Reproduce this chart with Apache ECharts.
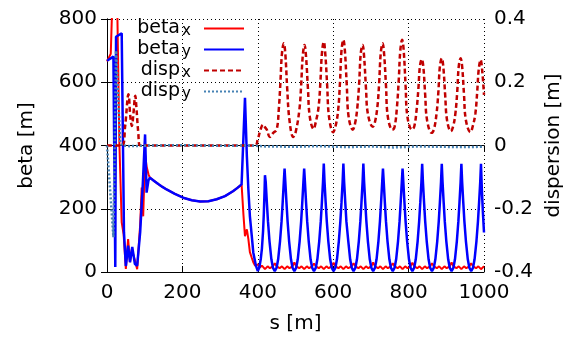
<!DOCTYPE html>
<html>
<head>
<meta charset="utf-8">
<script src="https://cdn.jsdelivr.net/npm/echarts@6/dist/echarts.min.js"></script>
<style>
  html, body { margin: 0; padding: 0; background: #fff; }
  #chart { width: 577px; height: 339px; }
</style>
</head>
<body>
<div id="chart"></div>
<script>
// optics along the line, s in metres
const betaX = [
  [0, 666], [10, 690], [14, 850], [27, 850], [33, 400], [39, 157], [44, 120], [50, 10],
  [56, 104], [61, 31], [66, 72], [73, 41], [80, 9], [88, 150], [92, 267], [96, 176],
  [101, 372], [105, 334], [110, 309], [114, 298], [125, 288], [136, 278], [147, 269], [158, 261],
  [180, 247], [202, 235], [225, 227], [247, 223], [269, 224], [291, 230], [313, 240], [335, 256],
  [346, 266], [357, 277], [362, 180], [366, 113], [371, 135],
  [375, 104], [379, 63], [384, 45], [388, 31], [393, 20], [397, 15], [401, 24], [405, 14],
  [411, 20], [419, 9], [426, 18], [432, 12], [440, 18], [445, 28], [450, 18], [458, 12], [464, 18],
  [471, 9], [478, 18], [484, 12], [492, 18], [497, 30], [502, 18], [510, 12], [516, 18],
  [523, 9], [530, 18], [536, 12], [544, 18], [549, 27], [554, 18], [562, 12], [568, 18],
  [575, 9], [582, 18], [588, 12], [596, 18], [601, 29], [606, 18], [614, 12], [620, 18],
  [627, 9], [634, 18], [640, 12], [649, 18], [654, 28], [659, 18], [667, 12], [673, 18],
  [680, 9], [687, 18], [693, 12], [701, 18], [706, 30], [711, 18], [719, 12], [725, 18],
  [732, 9], [739, 18], [745, 12], [753, 18], [758, 28], [763, 18], [771, 12], [777, 18],
  [784, 9], [791, 18], [797, 12], [805, 18], [810, 29], [815, 18], [823, 12], [829, 18],
  [836, 9], [843, 18], [849, 12], [857, 18], [862, 28], [867, 18], [875, 12], [881, 18],
  [888, 9], [895, 18], [901, 12], [909, 18], [914, 30], [919, 18], [927, 12], [933, 18],
  [940, 9], [947, 18], [953, 12], [961, 18], [966, 28], [971, 18], [979, 12], [985, 18],
  [992, 9], [1000, 18]
]

const betaY = [
  [0, 668], [17, 681], [21, 683], [22, 16], [24, 744], [39, 755], [42, 441], [45, 126], [50, 19],
  [56, 83], [61, 31], [67, 79], [74, 25], [80, 20], [88, 126], [95, 280], [101, 435], [105, 251],
  [110, 290], [114, 298], [125, 288], [136, 278], [147, 269], [158, 261], [180, 247], [202, 235],
  [225, 227], [247, 223], [269, 224], [291, 230], [313, 240], [335, 256], [346, 266],
  [357, 277], [366, 551], [371, 366], [375, 261], [379, 177], [384, 114], [388, 62], [395, 20],
  [400, 3], [404, 14], [408, 42], [411, 75], [414, 130], [416, 185], [418, 260], [419, 306],
  [421, 285], [424, 220], [427, 160], [431, 98], [436, 40], [440, 14], [445, 3],
  [450, 14], [454, 40], [459, 98], [463, 160], [466, 220], [469, 285], [471, 327],
  [473, 285], [476, 220], [479, 160], [483, 98], [488, 40], [492, 14], [497, 3],
  [502, 14], [506, 40], [511, 98], [515, 160], [518, 220], [521, 285], [523, 327],
  [525, 285], [528, 220], [531, 160], [535, 98], [540, 40], [544, 14], [549, 3],
  [554, 14], [558, 40], [563, 98], [567, 160], [570, 220], [573, 285], [575, 343],
  [577, 285], [580, 220], [583, 160], [587, 98], [592, 40], [596, 14], [601, 3],
  [606, 14], [610, 40], [615, 98], [619, 160], [622, 220], [625, 285], [627, 343],
  [629, 285], [632, 220], [635, 160], [640, 98], [645, 40], [649, 14], [654, 3],
  [659, 14], [663, 40], [668, 98], [672, 160], [675, 220], [678, 285], [680, 343],
  [682, 285], [685, 220], [688, 160], [692, 98], [697, 40], [701, 14], [706, 3],
  [711, 14], [715, 40], [720, 98], [724, 160], [727, 220], [730, 285], [732, 327],
  [734, 285], [737, 220], [740, 160], [744, 98], [749, 40], [753, 14], [758, 3],
  [763, 14], [767, 40], [772, 98], [776, 160], [779, 220], [782, 285], [784, 327],
  [786, 285], [789, 220], [792, 160], [796, 98], [801, 40], [805, 14], [810, 3],
  [815, 14], [819, 40], [824, 98], [828, 160], [831, 220], [834, 285], [836, 342],
  [838, 285], [841, 220], [844, 160], [848, 98], [853, 40], [857, 14], [862, 3],
  [867, 14], [871, 40], [876, 98], [880, 160], [883, 220], [886, 285], [888, 342],
  [890, 285], [893, 220], [896, 160], [900, 98], [905, 40], [909, 14], [914, 3],
  [919, 14], [923, 40], [928, 98], [932, 160], [935, 220], [938, 285], [940, 342],
  [942, 285], [945, 220], [948, 160], [952, 98], [957, 40], [961, 14], [966, 3],
  [971, 14], [975, 40], [980, 98], [984, 160], [987, 220], [990, 285], [992, 342],
  [994, 270], [997, 190], [1000, 125]
]

const dispX = [
  [0, 0], [40, 0], [48, 0.06], [57, 0.162], [62, 0.09], [66, 0.062], [70, 0.1], [75, 0.157],
  [78, 0.12], [83, 0.04], [88, 0], [392, 0], [400, 0.02], [406, 0.045], [414, 0.066], [419, 0.058],
  [424, 0.05], [432, 0.027], [441, 0.04],
  [450, 0.05], [456, 0.12], [460, 0.2], [464, 0.29], [469, 0.323], [473, 0.29], [478, 0.18], [484, 0.08], [494, 0.027],
  [500, 0.04], [510, 0.11], [515, 0.19], [519, 0.28], [524, 0.318], [528, 0.28], [533, 0.18], [538, 0.09], [548, 0.052],
  [553, 0.07], [561, 0.12], [566, 0.2], [570, 0.29], [575, 0.328], [579, 0.29], [584, 0.19], [589, 0.09], [600, 0.042],
  [606, 0.06], [613, 0.11], [618, 0.2], [622, 0.3], [627, 0.334], [631, 0.3], [636, 0.19], [641, 0.09], [652, 0.05],
  [658, 0.07], [664, 0.12], [669, 0.2], [673, 0.29], [678, 0.318], [682, 0.28], [687, 0.18], [692, 0.1], [705, 0.059],
  [710, 0.07], [717, 0.12], [722, 0.2], [726, 0.29], [731, 0.323], [735, 0.29], [740, 0.19], [745, 0.09], [757, 0.05],
  [763, 0.06], [769, 0.12], [774, 0.21], [778, 0.3], [783, 0.334], [787, 0.3], [792, 0.19], [797, 0.09], [809, 0.05],
  [815, 0.06], [821, 0.11], [826, 0.18], [830, 0.25], [835, 0.273], [839, 0.25], [844, 0.16], [849, 0.08], [861, 0.04],
  [867, 0.05], [874, 0.1], [879, 0.17], [883, 0.25], [888, 0.276], [892, 0.25], [897, 0.16], [902, 0.08], [912, 0.045],
  [918, 0.06], [924, 0.1], [929, 0.17], [933, 0.25], [938, 0.276], [942, 0.25], [947, 0.16], [952, 0.08], [964, 0.042],
  [970, 0.06], [977, 0.1], [982, 0.17], [986, 0.24], [991, 0.271], [995, 0.24], [1000, 0.16]
]

const dispY = [
  [0, 0], [17, -0.29], [24, 0.3], [35, 0.01], [40, 0], [60, -0.002], [120, 0], [200, 0.001],
  [300, -0.001], [380, 0], [420, -0.003], [500, -0.004], [560, -0.002], [640, -0.005],
  [700, -0.003], [760, -0.006], [820, -0.003], [880, -0.004], [940, -0.005], [1000, -0.004]
]

const seriesNames = ['beta_x', 'beta_y', 'disp_x', 'disp_y']

const font = 'DejaVu Sans'
const chart = echarts.init(document.getElementById('chart'))

const frameAxis = {
  axisLine: { show: true, lineStyle: { color: '#000', width: 1 } },
  axisTick: { show: true, inside: true, length: 6, lineStyle: { color: '#000' } }
}
const gridLine = { show: true, lineStyle: { color: '#000', type: [1, 3], width: 1 } }
const labelStyle = { color: '#000', fontFamily: font, fontSize: 20 }

chart.setOption({
  animation: false,
  backgroundColor: '#fff',
  grid: { left: 107, right: 93, top: 19, bottom: 66 },
  legend: {
    orient: 'vertical',
    left: 136,
    top: 19,
    align: 'right',
    itemWidth: 40,
    itemHeight: 14,
    itemGap: 1,
    padding: 0,
    data: seriesNames,
    // hide the marker dot, keep only the line sample
    itemStyle: { color: 'rgba(0,0,0,0)', borderColor: 'rgba(0,0,0,0)', borderWidth: 0 },
    formatter: function(name) {
      const parts = name.split('_')
      return '{b|' + parts[0] + '}{s|' + parts[1] + '}'
    },
    textStyle: {
      color: '#000',
      fontFamily: font,
      rich: {
        b: { fontFamily: font, fontSize: 19, width: 44, align: 'right', lineHeight: 21, color: '#000' },
        s: { fontFamily: font, fontSize: 15, width: 10, lineHeight: 15, verticalAlign: 'bottom', padding: [0, 8, 0, 1], color: '#000' }
      }
    }
  },
  xAxis: [
    Object.assign({
      type: 'value', min: 0, max: 1000, interval: 200, position: 'bottom',
      name: 's [m]', nameLocation: 'middle', nameGap: 42,
      nameTextStyle: labelStyle,
      axisLabel: Object.assign({ margin: 11, formatter: v => String(v) }, labelStyle),
      splitLine: gridLine
    }, frameAxis),
    Object.assign({
      type: 'value', min: 0, max: 1000, interval: 200, position: 'top',
      axisLabel: { show: false }, splitLine: { show: false }
    }, frameAxis)
  ],
  yAxis: [
    Object.assign({
      type: 'value', min: 0, max: 800, interval: 200, position: 'left',
      name: 'beta [m]', nameLocation: 'middle', nameGap: 70,
      nameTextStyle: labelStyle,
      axisLabel: Object.assign({ margin: 10, formatter: v => String(v) }, labelStyle),
      splitLine: gridLine
    }, frameAxis),
    Object.assign({
      type: 'value', min: -0.4, max: 0.4, interval: 0.2, position: 'right',
      name: 'dispersion [m]', nameLocation: 'middle', nameGap: 59,
      nameTextStyle: labelStyle,
      axisLabel: Object.assign({ margin: 10, formatter: v => String(Math.round(v * 10) / 10) }, labelStyle),
      splitLine: { show: false }
    }, frameAxis)
  ],
  series: [
    {
      name: 'beta_x', type: 'line', data: betaX, symbol: 'none',
      lineStyle: { color: '#ff0000', width: 2 }, itemStyle: { color: '#ff0000' }
    },
    {
      name: 'beta_y', type: 'line', data: betaY, symbol: 'none',
      lineStyle: { color: '#0000ff', width: 2.5 }, itemStyle: { color: '#0000ff' }
    },
    {
      name: 'disp_x', type: 'line', yAxisIndex: 1, data: dispX, symbol: 'none', smooth: 0.4,
      lineStyle: { color: '#c00000', width: 2.5, type: [5, 3] }, itemStyle: { color: '#c00000' }
    },
    {
      name: 'disp_y', type: 'line', yAxisIndex: 1, data: dispY, symbol: 'none',
      lineStyle: { color: '#4682b4', width: 2.5, type: [2, 2] }, itemStyle: { color: '#4682b4' }
    }
  ]
})
</script>
</body>
</html>
